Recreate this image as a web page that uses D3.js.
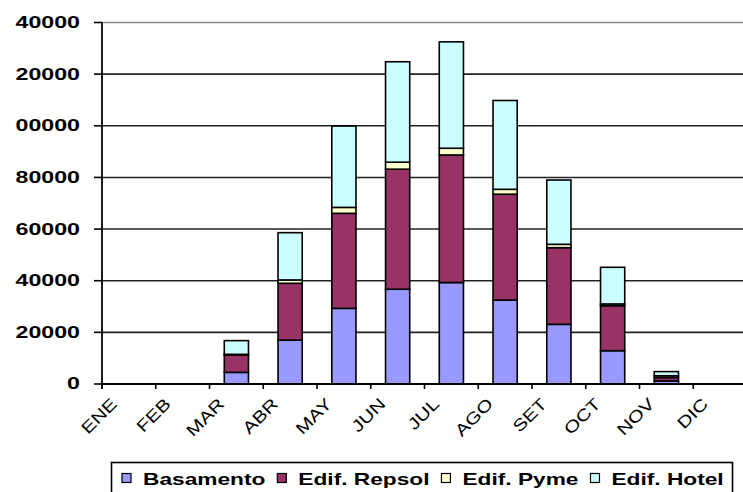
<!DOCTYPE html>
<html>
<head>
<meta charset="utf-8">
<script src="https://cdn.jsdelivr.net/npm/d3@7"></script>
<style>
body { margin: 0; background: #fff; }
svg { display: block; }
</style>
</head>
<body>
<div id="chart"></div>
<script>

//////////////////////////////////////////////////////////////////////////////
// Data

var months = ["ENE", "FEB", "MAR", "ABR", "MAY", "JUN", "JUL", "AGO", "SET", "OCT", "NOV", "DIC"];

var basamento = [0, 0, 4500, 17000, 29300, 36700, 39300, 32500, 23100, 12900, 1200, 0];
var repsol    = [0, 0, 6700, 22000, 36800, 46500, 49400, 41000, 29700, 17400, 1300, 0];
var pyme      = [0, 0,  300,  1300,  2300,  2700,  2600,  1900,  1300,   700,  700, 0];
var hotel     = [0, 0, 5300, 18300, 31500, 38900, 41200, 34400, 24900, 14200, 1600, 0];

var seriesNames  = ["Basamento", "Edif. Repsol", "Edif. Pyme", "Edif. Hotel"];
var seriesColors = ["#9999ff", "#993366", "#ffffcc", "#ccffff"];

var yTicks = [0, 20000, 40000, 60000, 80000, 100000, 120000, 140000];

//////////////////////////////////////////////////////////////////////////////
// Global variables, preliminaries

var width = 743, height = 492;
var plotLeft = 102, plotRight = 747, plotTop = 22.5, plotBottom = 384;
var fontFamily = "'Liberation Sans', Arial, sans-serif";

var table = months.map(function(m, i) {
    return { month: m, "Basamento": basamento[i], "Edif. Repsol": repsol[i],
             "Edif. Pyme": pyme[i], "Edif. Hotel": hotel[i] };
});
var stacked = d3.stack().keys(seriesNames)(table);

var xScale = d3.scaleBand().domain(months).range([plotLeft, plotRight])
    .paddingInner(0.55).paddingOuter(0.275);
var yScale = d3.scaleLinear().domain([0, 140000]).range([plotBottom, plotTop]);
var color  = d3.scaleOrdinal().domain(seriesNames).range(seriesColors);

// left edge of each category slot (where the tick marks go)
function slotStart(m) {
    return xScale(m) + xScale.bandwidth() / 2 - xScale.step() / 2;
}
function slotCenter(m) {
    return xScale(m) + xScale.bandwidth() / 2;
}

var svg = d3.select("#chart").append("svg")
    .attr("width", width)
    .attr("height", height);

svg.append("rect").attr("width", width).attr("height", height).attr("fill", "#fff");

//////////////////////////////////////////////////////////////////////////////
// grid and axes

svg.append("g").selectAll("line")
    .data(yTicks.slice(1))
    .enter().append("line")
    .attr("x1", plotLeft).attr("x2", plotRight)
    .attr("y1", function(d) { return yScale(d); })
    .attr("y2", function(d) { return yScale(d); })
    .attr("stroke", function(d) { return d === 140000 ? "#888" : "#222"; })
    .attr("stroke-width", 1.6);

// y tick marks
svg.append("g").selectAll("line")
    .data(yTicks)
    .enter().append("line")
    .attr("x1", plotLeft - 8).attr("x2", plotLeft)
    .attr("y1", function(d) { return yScale(d); })
    .attr("y2", function(d) { return yScale(d); })
    .attr("stroke", "#000").attr("stroke-width", 1.6);

// the picture cuts the leading "1" off the top labels, show what is visible
svg.append("g").selectAll("g")
    .data(yTicks)
    .enter().append("g")
    .attr("transform", function(d) { return "translate(80," + yScale(d) + ") scale(1.45,1)"; })
    .append("text")
    .attr("text-anchor", "end")
    .attr("dy", "0.34em")
    .attr("font-family", fontFamily)
    .attr("font-weight", "bold")
    .attr("font-size", 16)
    .attr("fill", "#000")
    .text(function(d) { return d === 0 ? "0" : String(d).slice(-5); });

//////////////////////////////////////////////////////////////////////////////
// bars

svg.append("g").selectAll("g")
    .data(stacked)
    .enter().append("g")
    .attr("fill", function(s) { return color(s.key); })
    .selectAll("rect")
    .data(function(s) { return s.filter(function(d) { return d[1] > d[0]; }); })
    .enter().append("rect")
    .attr("x", function(d) { return xScale(d.data.month); })
    .attr("y", function(d) { return yScale(d[1]); })
    .attr("width", xScale.bandwidth())
    .attr("height", function(d) { return yScale(d[0]) - yScale(d[1]); })
    .attr("stroke", "#000")
    .attr("stroke-width", 1.6);

// axis lines on top
svg.append("line")
    .attr("x1", plotLeft).attr("x2", plotLeft)
    .attr("y1", plotTop).attr("y2", plotBottom + 5)
    .attr("stroke", "#000").attr("stroke-width", 1.8);
svg.append("line")
    .attr("x1", plotLeft).attr("x2", plotRight)
    .attr("y1", plotBottom).attr("y2", plotBottom)
    .attr("stroke", "#000").attr("stroke-width", 1.8);

svg.append("g").selectAll("line")
    .data(months)
    .enter().append("line")
    .attr("x1", slotStart).attr("x2", slotStart)
    .attr("y1", plotBottom).attr("y2", plotBottom + 5)
    .attr("stroke", "#000").attr("stroke-width", 1.6);

svg.append("g").selectAll("text")
    .data(months)
    .enter().append("text")
    .attr("transform", function(m) {
        return "translate(" + (slotCenter(m) - 11) + "," + (plotBottom + 21) + ") rotate(-45) scale(1.25,1)";
    })
    .attr("text-anchor", "end")
    .attr("font-family", fontFamily)
    .attr("font-size", 16.5)
    .attr("fill", "#000")
    .text(function(m) { return m; });

//////////////////////////////////////////////////////////////////////////////
// legend

var legend = svg.append("g");
legend.append("rect")
    .attr("x", 111.5).attr("y", 462.5)
    .attr("width", 621).attr("height", 40)
    .attr("fill", "#fff")
    .attr("stroke", "#000").attr("stroke-width", 1.6);

var legendX = 122;
seriesNames.forEach(function(name) {
    legend.append("rect")
        .attr("x", legendX).attr("y", 473.5)
        .attr("width", 9).attr("height", 9)
        .attr("fill", color(name))
        .attr("stroke", "#000").attr("stroke-width", 1.2);
    var t = legend.append("text")
        .attr("transform", "translate(" + (legendX + 21) + ",484.5) scale(1.42,1)")
        .attr("font-family", fontFamily)
        .attr("font-weight", "bold")
        .attr("font-size", 16)
        .attr("fill", "#000")
        .text(name);
    legendX += 21 + t.node().getComputedTextLength() * 1.42 + 12;
});

</script>
</body>
</html>
